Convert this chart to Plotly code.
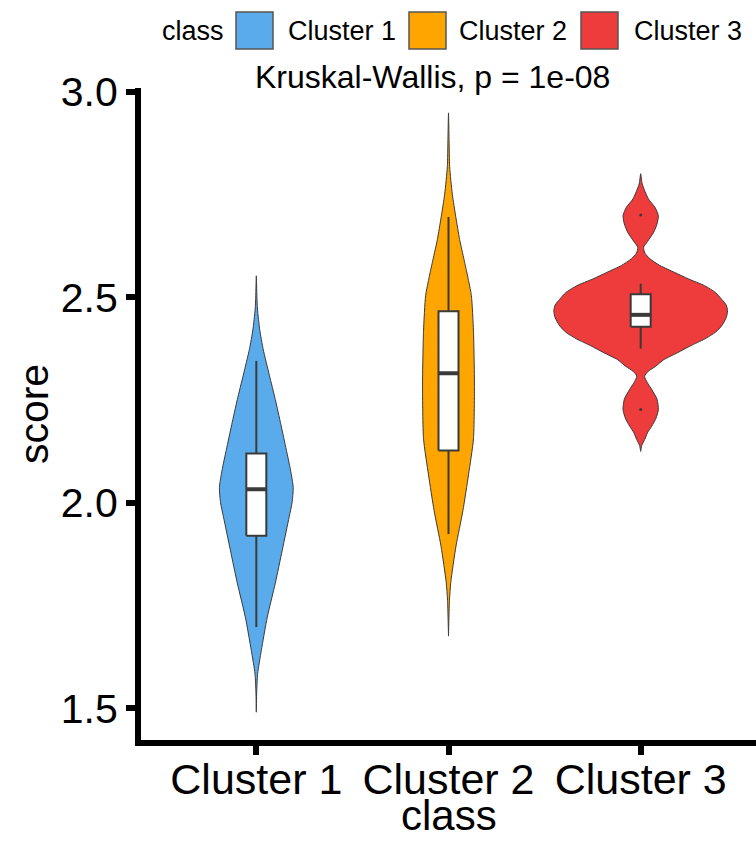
import plotly.graph_objects as go

# ---------------- data ----------------
categories = ["Cluster 1", "Cluster 2", "Cluster 3"]
fill_colors = ["#5AABEB", "#FFA500", "#EE3B3C"]

# violin outlines: score level and half-width of the density (x-axis category units)
c1_y = [2.552, 2.50, 2.471, 2.42, 2.373, 2.31, 2.251, 2.19, 2.129, 2.08, 2.037,
        2.00, 1.966, 1.885, 1.805, 1.722, 1.641, 1.585, 1.54, 1.491]
c1_w = [0.0, 0.003, 0.006, 0.018, 0.036, 0.068, 0.099, 0.128, 0.156, 0.178, 0.192,
        0.186, 0.171, 0.135, 0.099, 0.057, 0.026, 0.007, 0.002, 0.0]

c2_y = [2.948, 2.88, 2.817, 2.75, 2.695, 2.64, 2.591, 2.55, 2.504, 2.417, 2.286,
        2.156, 2.068, 1.981, 1.895, 1.807, 1.763, 1.676]
c2_w = [0.0, 0.003, 0.006, 0.020, 0.038, 0.058, 0.081, 0.100, 0.119, 0.130, 0.135,
        0.130, 0.104, 0.075, 0.039, 0.012, 0.005, 0.0]

c3_y = [2.800, 2.775, 2.739, 2.718, 2.698, 2.678, 2.658, 2.635, 2.621, 2.607, 2.593,
        2.577, 2.560, 2.544, 2.528, 2.511, 2.495, 2.481, 2.467, 2.450, 2.430, 2.415,
        2.398, 2.382, 2.365, 2.348, 2.332, 2.320, 2.308, 2.292, 2.276, 2.252, 2.227,
        2.206, 2.186, 2.170, 2.154, 2.140, 2.125]
c3_w = [0.0, 0.008, 0.040, 0.075, 0.092, 0.085, 0.068, 0.035, 0.015, 0.022, 0.049,
        0.100, 0.177, 0.250, 0.332, 0.390, 0.421, 0.445, 0.452, 0.445, 0.421, 0.390,
        0.332, 0.260, 0.192, 0.120, 0.078, 0.040, 0.020, 0.035, 0.057, 0.085, 0.092,
        0.080, 0.057, 0.035, 0.021, 0.006, 0.0]

violin_y = [c1_y, c2_y, c3_y]
violin_w = [c1_w, c2_w, c3_w]

# box-plot statistics
box_q1 = [1.920, 2.127, 2.428]
box_median = [2.033, 2.315, 2.457]
box_q3 = [2.120, 2.466, 2.507]
box_lower = [1.698, 1.924, 2.375]
box_upper = [2.345, 2.695, 2.533]

outlier_cat = [3, 3]
outlier_y = [2.700, 2.227]

y_ticks = [1.5, 2.0, 2.5, 3.0]
y_ticktext = ["1.5", "2.0", "2.5", "3.0"]
p_label = "Kruskal-Wallis, p = 1e-08"
x_title = "class"
y_title = "score"
legend_title = "class"

# ---------------- figure ----------------
FONT = "Liberation Sans, Arial, sans-serif"
W, H = 756, 841
L, R, T, B = 141, 0, 88, 101
PW, PH = W - L - R, H - T - B
BOX_W = 0.104
EDGE = "#3a3a3a"

def px_x(px):
    return (px - L) / PW

def px_y(py):
    return (H - B - py) / PH

fig = go.Figure()

for i, cat in enumerate(categories):
    pos = i + 1
    ys, ws = violin_y[i], violin_w[i]
    xs = [pos + w for w in ws] + [pos - w for w in ws[::-1]]
    yy = list(ys) + list(ys[::-1])
    # violin body
    fig.add_trace(go.Scatter(
        x=xs, y=yy, mode="lines", fill="toself", fillcolor=fill_colors[i],
        line=dict(color=EDGE, width=1, shape="spline", smoothing=0.6),
        name=cat, showlegend=False, hoverinfo="skip"))
    # whiskers
    fig.add_trace(go.Scatter(
        x=[pos, pos, None, pos, pos],
        y=[box_q3[i], box_upper[i], None, box_q1[i], box_lower[i]],
        mode="lines", line=dict(color=EDGE, width=2),
        showlegend=False, hoverinfo="skip"))
    # box
    bl, br = pos - BOX_W / 2, pos + BOX_W / 2
    fig.add_trace(go.Scatter(
        x=[bl, br, br, bl, bl],
        y=[box_q1[i], box_q1[i], box_q3[i], box_q3[i], box_q1[i]],
        mode="lines", fill="toself", fillcolor="white",
        line=dict(color=EDGE, width=2),
        showlegend=False, hoverinfo="skip"))
    # median
    fig.add_trace(go.Scatter(
        x=[bl, br], y=[box_median[i], box_median[i]],
        mode="lines", line=dict(color=EDGE, width=4),
        showlegend=False, hoverinfo="skip"))

fig.add_trace(go.Scatter(
    x=outlier_cat, y=outlier_y, mode="markers",
    marker=dict(color=EDGE, size=3), showlegend=False, hoverinfo="skip"))

axis_common = dict(
    showline=True, linewidth=6, linecolor="black", mirror=False,
    ticks="outside", ticklen=9, tickwidth=6, tickcolor="black",
    showgrid=False, zeroline=False,
)

fig.update_layout(
    width=W, height=H,
    margin=dict(l=L, r=R, t=T, b=B, autoexpand=False),
    paper_bgcolor="white", plot_bgcolor="white",
    showlegend=False,
    font=dict(family=FONT, color="black"),
    xaxis=dict(range=[0.4, 3.6], tickvals=[1, 2, 3], ticktext=categories,
               tickfont=dict(family=FONT, size=43, color="black"),
               ticklabelstandoff=-13,
               **axis_common),
    yaxis=dict(range=[1.4234, 3.0085], tickvals=y_ticks, ticktext=y_ticktext,
               tickfont=dict(family=FONT, size=41, color="black"),
               title=dict(text=y_title, font=dict(family=FONT, size=41), standoff=1),
               **axis_common),
)

annotations = [
    dict(text=x_title, x=0.5, y=px_y(841), xref="paper", yref="paper",
         xanchor="center", yanchor="bottom", showarrow=False,
         font=dict(family=FONT, size=42, color="black")),
    dict(text=p_label, x=px_x(432), y=px_y(77), xref="paper", yref="paper",
         xanchor="center", yanchor="middle", showarrow=False,
         font=dict(family=FONT, size=32, color="black")),
    dict(text=legend_title, x=px_x(160), y=px_y(31), xref="paper", yref="paper",
         xanchor="left", yanchor="middle", showarrow=False,
         font=dict(family=FONT, size=27, color="black")),
]
shapes = []
legend_box_left = [236, 409, 581]
legend_text_left = [286, 457, 632]
for i, cat in enumerate(categories):
    shapes.append(dict(type="rect", xref="paper", yref="paper",
                       x0=px_x(legend_box_left[i]), x1=px_x(legend_box_left[i] + 37),
                       y0=px_y(49), y1=px_y(12),
                       fillcolor=fill_colors[i], line=dict(color="#555555", width=1.5)))
    annotations.append(dict(text=cat, x=px_x(legend_text_left[i]), y=px_y(31),
                            xref="paper", yref="paper", xanchor="left", yanchor="middle",
                            showarrow=False,
                            font=dict(family=FONT, size=27, color="black")))

fig.update_layout(annotations=annotations, shapes=shapes)

fig.write_html("out.html")
